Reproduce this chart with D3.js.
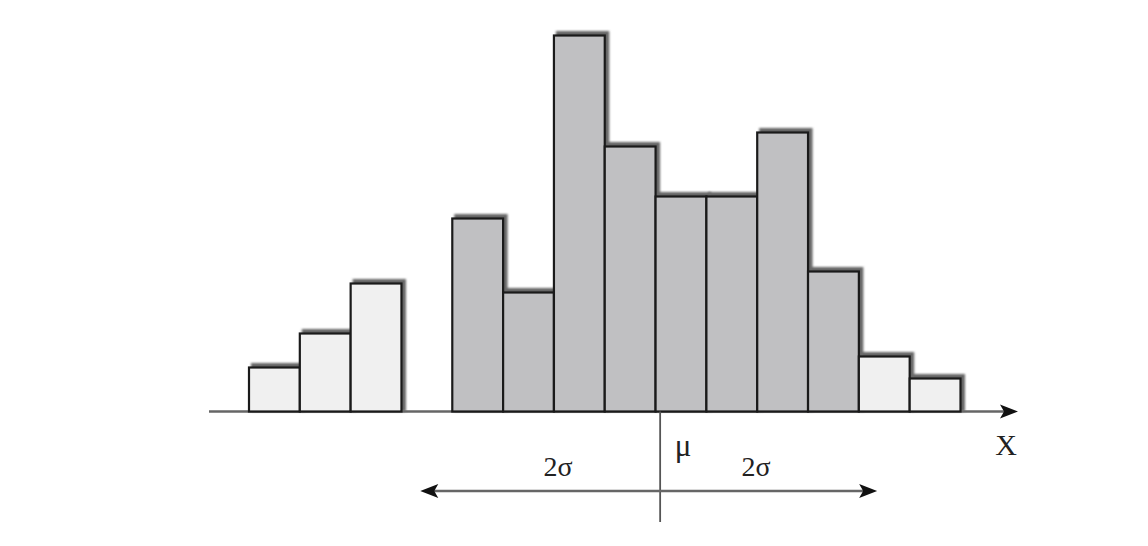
<!DOCTYPE html>
<html><head><meta charset="utf-8">
<script src="https://cdn.jsdelivr.net/npm/d3@7"></script>
<style>body{margin:0;background:#fff}svg{display:block}</style>
</head><body>
<script>
// bins (index along x), null = empty bin
const bins = [0,1,2,3,4,5,6,7,8,9,10,11,12,13];
const counts = [44,78,128,null,193,119,376,265,215,215,279,140,55,33];
const inside = [false,false,false,false,true,true,true,true,true,true,true,true,false,false];
const muPos = 8.09;
const arrowLeft = 3.37, arrowRight = 12.36;
const labels = {mu:"μ", sigma:"2σ", axis:"X"};

const W=1148,H=546;
const svg=d3.select("body").append("svg").attr("width",W).attr("height",H);
const x=d3.scaleLinear().domain([0,14]).range([249,960.5]);
const y=d3.scaleLinear().domain([0,400]).range([411.5,11.5]);

const defs=svg.append("defs");
defs.append("filter").attr("id","blur").attr("x","-10%").attr("y","-10%").attr("width","120%").attr("height","120%")
 .append("feGaussianBlur").attr("stdDeviation",0.9);

const data=bins.map((b,i)=>({b,v:counts[i],in:inside[i]})).filter(d=>d.v!=null);

// axis line
svg.append("line").attr("x1",209).attr("x2",1008).attr("y1",y(0)).attr("y2",y(0))
 .attr("stroke","#666").attr("stroke-width",2.4);
svg.append("path").attr("d",`M1000,${y(0)-7} L1018,${y(0)} L1000,${y(0)+7} L1004,${y(0)} Z`).attr("fill","#111");

// shadows
svg.append("g").selectAll("rect").data(data).join("rect")
 .attr("x",d=>x(d.b)+2).attr("y",d=>y(d.v)-4.5)
 .attr("width",d=>x(d.b+1)-x(d.b)+2.5).attr("height",d=>y(0)-y(d.v)+4.5)
 .attr("fill","#666").attr("filter","url(#blur)");
// bars
svg.append("g").selectAll("rect").data(data).join("rect")
 .attr("x",d=>x(d.b)).attr("y",d=>y(d.v))
 .attr("width",d=>x(d.b+1)-x(d.b)).attr("height",d=>y(0)-y(d.v))
 .attr("fill",d=>d.in?"#c0c0c2":"#f0f0f0").attr("stroke","#1a1a1a").attr("stroke-width",2.2);

// mu line
svg.append("line").attr("x1",x(muPos)).attr("x2",x(muPos)).attr("y1",y(0)).attr("y2",522)
 .attr("stroke","#555").attr("stroke-width",1.8);
// 2sigma arrow
const ay=491;
svg.append("line").attr("x1",x(arrowLeft)+6).attr("x2",x(arrowRight)-6).attr("y1",ay).attr("y2",ay)
 .attr("stroke","#666").attr("stroke-width",2.4);
svg.append("path").attr("d",`M${x(arrowLeft)},${ay} L${x(arrowLeft)+18},${ay-7} L${x(arrowLeft)+14},${ay} L${x(arrowLeft)+18},${ay+7} Z`).attr("fill","#111");
svg.append("path").attr("d",`M${x(arrowRight)},${ay} L${x(arrowRight)-18},${ay-7} L${x(arrowRight)-14},${ay} L${x(arrowRight)-18},${ay+7} Z`).attr("fill","#111");

const txt=(t,tx,ty,size)=>svg.append("text").attr("x",tx).attr("y",ty).attr("text-anchor","middle")
 .attr("font-family","'Liberation Serif', serif").attr("font-size",size).attr("fill","#222").text(t);
txt(labels.sigma,558,476,28);
txt(labels.sigma,756,476,28);
txt(labels.mu,683,456,31);
txt(labels.axis,1006,455,30);
</script>
</body></html>
